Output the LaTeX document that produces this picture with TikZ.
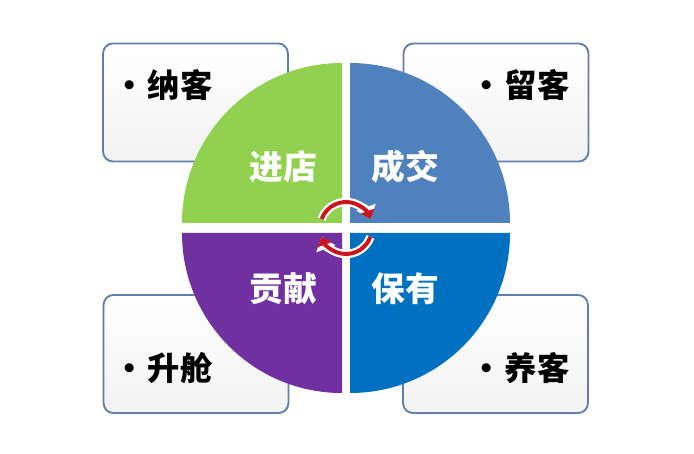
\documentclass[tikz,border=0pt]{standalone}
\usepackage{fontspec}
\newfontfamily\cjk{Noto Sans CJK SC}
\usepackage{tikz}
\usetikzlibrary{positioning,arrows.meta}
\definecolor{QGreen}{RGB}{146,208,80}
\definecolor{QSteel}{RGB}{79,129,189}
\definecolor{QPurple}{RGB}{112,48,160}
\definecolor{QBlue}{RGB}{0,112,192}
\definecolor{BoxLine}{RGB}{94,126,175}
\definecolor{ArrRed}{RGB}{204,20,32}

\begin{document}
\begin{tikzpicture}[x=0.025cm,y=0.025cm,
    infobox/.style={draw=BoxLine, line width=1.3pt, rounded corners=7pt,
        top color=white, bottom color=black!5,
        minimum width=4.62cm, minimum height=2.95cm},
    itemtext/.style={font=\cjk\bfseries\fontsize{23}{23}\selectfont, text=black, anchor=west, inner sep=0pt},
    quadtext/.style={font=\cjk\bfseries\fontsize{24}{24}\selectfont, text=white}]
    \useasboundingbox (0,0) rectangle (694,453);
    \node[infobox] (nake) at (195.5,350.5) {};
    \node[infobox] (liuke) at (496,350.5) {};
    \node[infobox] (shengcang) at (196,99) {};
    \node[infobox] (yangke) at (495.5,99) {};
    \foreach \col/\a/\dx/\dy in {QGreen/90/-4/5, QSteel/0/4/5, QPurple/180/-4/-5, QBlue/270/4/-5} {
        \fill[\col] (346+\dx,225+\dy) -- ++(\a:160)
            arc[start angle=\a, end angle=\a+90, radius=160] -- cycle;
    }
    \node[quadtext] (jindian) at (283,286) {进店};
    \node[quadtext] (chengjiao) at (405,286) {成交};
    \node[quadtext] (gongxian) at (283,164) {贡献};
    \node[quadtext] (baoyou) at (405,164) {保有};
    \node[itemtext] (nakeT) at (113,368) {•\hspace{1.5pt}纳客};
    \node[itemtext] (liukeT) at (470,368) {•\hspace{1.5pt}留客};
    \node[itemtext] (shengcangT) at (113,85) {•\hspace{1.5pt}升舱};
    \node[itemtext] (yangkeT) at (470,85) {•\hspace{1.5pt}养客};
    \coordinate (o) at (346,225);
    \foreach \s/\e in {160/20, -20/-160} {
        \draw[white, line width=6pt, -{Triangle[length=9pt,width=14pt]}]
            ([shift={(\s:26)}]o) arc[start angle=\s, end angle=\e, radius=26];
        \draw[ArrRed, line width=2.8pt, -{Triangle[length=6pt,width=10pt]}]
            ([shift={(\s:26)}]o) arc[start angle=\s, end angle=\e, radius=26];
    }
\end{tikzpicture}
\end{document}
